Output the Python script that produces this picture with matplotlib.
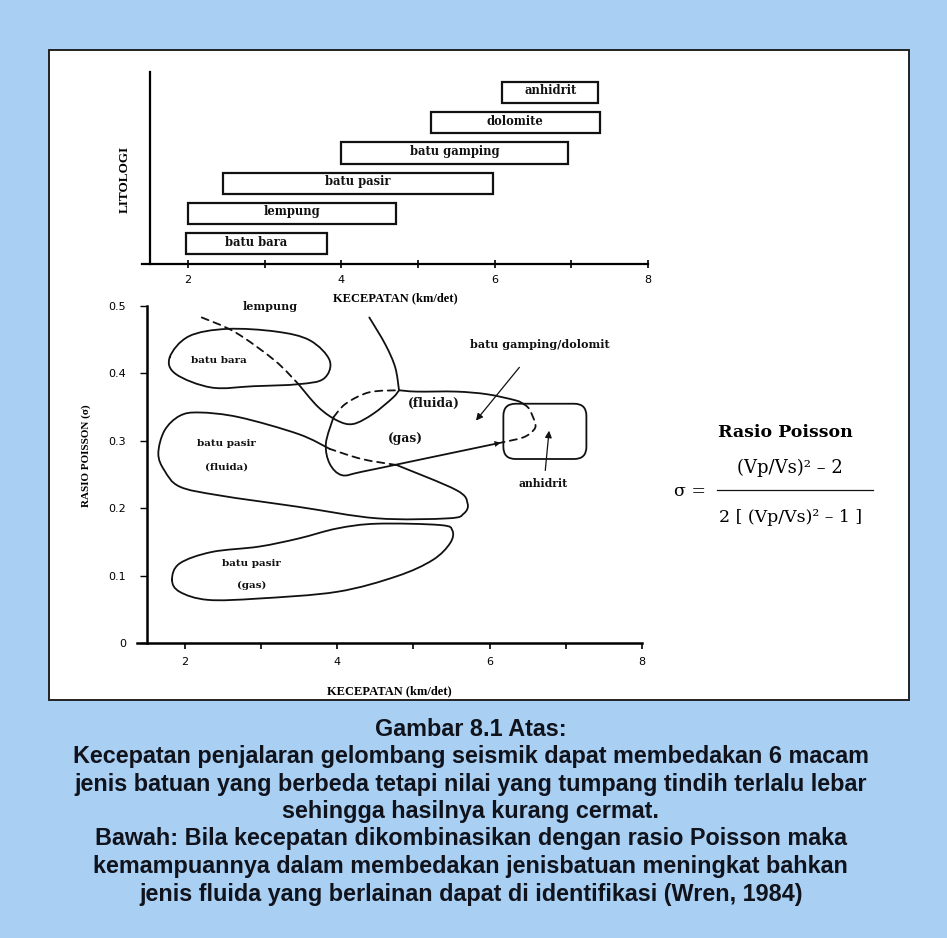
"""Litologi vs kecepatan gelombang seismik dan rasio Poisson (Wren, 1984)."""

import matplotlib

matplotlib.use("Agg")
import matplotlib.pyplot as plt
import numpy as np
from matplotlib.lines import Line2D
from matplotlib.patches import FancyBboxPatch, PathPatch, Rectangle
from matplotlib.path import Path

# --- top panel: velocity range of each lithology (km/det) ---
litologi = ["batu bara", "lempung", "batu pasir", "batu gamping", "dolomite", "anhidrit"]
v_min = [1.98, 2.00, 2.45, 3.99, 5.17, 6.10]
v_max = [3.81, 4.71, 5.98, 6.96, 7.37, 7.35]

# --- bottom panel: region outlines, (velocity, poisson ratio) ---
bara_v = [1.80, 2.05, 2.55, 3.20, 3.64, 3.90, 3.82, 3.49, 2.90, 2.35, 1.88]
bara_s = [0.424, 0.455, 0.466, 0.462, 0.449, 0.419, 0.392, 0.384, 0.381, 0.379, 0.399]

lempung_dash_v = [2.22, 2.66, 3.18, 3.49]
lempung_dash_s = [0.483, 0.461, 0.419, 0.384]
lempung_low_v = [3.49, 3.75, 4.00, 4.21, 4.47, 4.73, 4.81]
lempung_low_s = [0.384, 0.350, 0.330, 0.325, 0.340, 0.364, 0.375]
lempung_up_v = [4.42, 4.63, 4.76, 4.81]
lempung_up_s = [0.483, 0.443, 0.409, 0.375]

gamping_top_v = [4.81, 5.04, 5.56, 5.97, 6.34, 6.44]
gamping_top_s = [0.375, 0.373, 0.373, 0.369, 0.360, 0.355]
gamping_right_v = [6.44, 6.52, 6.60, 6.57, 6.44, 6.18]
gamping_right_s = [0.355, 0.347, 0.325, 0.315, 0.305, 0.298]
gamping_bot_v = [3.95, 3.85, 3.90, 4.06, 4.32, 5.04, 6.18]
gamping_bot_s = [0.335, 0.296, 0.266, 0.249, 0.254, 0.271, 0.298]
gamping_dash_v = [3.95, 4.11, 4.42, 4.81]
gamping_dash_s = [0.335, 0.355, 0.372, 0.375]

pasir_fl_v = [3.90, 3.49, 2.71, 2.19, 1.93, 1.73, 1.65, 1.73, 1.93, 2.45,
              3.49, 4.52, 5.46, 5.66, 5.71, 5.56, 4.78]
pasir_fl_s = [0.288, 0.310, 0.335, 0.342, 0.337, 0.315, 0.281, 0.256, 0.232, 0.219,
              0.202, 0.185, 0.185, 0.192, 0.207, 0.227, 0.264]
pasir_fl_dash_v = [4.78, 4.32, 3.90]
pasir_fl_dash_s = [0.264, 0.273, 0.288]

pasir_gas_v = [1.83, 1.93, 2.35, 2.97, 3.49, 4.00, 4.52, 5.35, 5.51, 5.48,
               5.25, 4.78, 4.00, 2.97, 2.30, 1.93]
pasir_gas_s = [0.094, 0.118, 0.135, 0.143, 0.155, 0.170, 0.177, 0.175, 0.167, 0.148,
               0.123, 0.099, 0.076, 0.066, 0.064, 0.076]

anhidrit_v = (6.18, 7.27)
anhidrit_s = (0.273, 0.355)

BLUE = "#a9cff3"
INK = "#111111"
SERIF = ["Liberation Serif", "DejaVu Serif"]
WIDE_SERIF = ["DejaVu Serif"]


def smooth_path(xs, ys, closed=False):
    """Catmull-Rom through the outline points, as a cubic Bezier Path."""
    pts = np.column_stack([xs, ys]).astype(float)
    n = len(pts)
    if closed:
        get = lambda i: pts[i % n]
        nseg = n
    else:
        get = lambda i: pts[min(max(i, 0), n - 1)]
        nseg = n - 1
    verts = [pts[0]]
    codes = [Path.MOVETO]
    for i in range(nseg):
        p0, p1, p2, p3 = get(i - 1), get(i), get(i + 1), get(i + 2)
        verts += [p1 + (p2 - p0) / 6.0, p2 - (p3 - p1) / 6.0, p2]
        codes += [Path.CURVE4] * 3
    return Path(verts, codes)


def outline(ax, xs, ys, closed=False, dashed=False):
    ls = (0, (4, 3)) if dashed else "-"
    ax.add_patch(PathPatch(smooth_path(xs, ys, closed), fill=False,
                           edgecolor=INK, lw=1.3, ls=ls, capstyle="round"))


def label(ax, x, y, s, size=7.5):
    ax.text(x, y, s, ha="center", va="center", fontsize=size, fontweight="bold",
            family=WIDE_SERIF, color=INK, clip_on=False)


fig = plt.figure(figsize=(9.47, 9.38), dpi=100, facecolor=BLUE)
fig.patches.append(Rectangle((0.0517, 0.2537), 0.9081, 0.693, transform=fig.transFigure,
                             facecolor="white", edgecolor="#222222", lw=1.4, zorder=-10))

# top: velocity ranges
ax1 = fig.add_axes([142 / 947, 1 - 264 / 938, (648 - 142) / 947, 192 / 938])
ax1.patch.set_alpha(0)
idx = np.arange(len(litologi))
widths = np.array(v_max) - np.array(v_min)
ax1.barh(idx, widths, left=v_min, height=0.7, facecolor="white",
         edgecolor=INK, lw=1.6)
for i, name in enumerate(litologi):
    label(ax1, (v_min[i] + v_max[i]) / 2, i + 0.05, name, size=8.3)
ax1.set_xlim(1.40, 8.0)
ax1.set_ylim(-0.667, 5.67)
ax1.spines["left"].set_position(("data", 1.5))
ax1.set_xticks([2, 4, 6, 8])
ax1.set_xticks([3, 5, 7], minor=True)
ax1.set_yticks([])
ax1.tick_params(axis="x", which="both", direction="inout", length=6, width=1.2,
                labelsize=8, pad=5)
for s in ("top", "right"):
    ax1.spines[s].set_visible(False)
for s in ("left", "bottom"):
    ax1.spines[s].set_linewidth(1.6)
ax1.set_ylabel("LITOLOGI", fontsize=9.5, fontweight="bold", family=SERIF)
ax1.yaxis.set_label_coords(-0.022, 0.44)
ax1.set_xlabel("KECEPATAN (km/det)", fontsize=9, fontweight="bold", family=SERIF,
               labelpad=5)

# bottom: velocity vs Poisson ratio
ax2 = fig.add_axes([137 / 947, 1 - 643 / 938, (642 - 137) / 947, 337 / 938])
ax2.patch.set_alpha(0)
outline(ax2, bara_v, bara_s, closed=True)
outline(ax2, pasir_gas_v, pasir_gas_s, closed=True)
outline(ax2, pasir_fl_v, pasir_fl_s)
outline(ax2, pasir_fl_dash_v, pasir_fl_dash_s, dashed=True)
outline(ax2, lempung_dash_v, lempung_dash_s, dashed=True)
outline(ax2, lempung_low_v, lempung_low_s)
outline(ax2, lempung_up_v, lempung_up_s)
outline(ax2, gamping_top_v, gamping_top_s)
outline(ax2, gamping_right_v, gamping_right_s, dashed=True)
outline(ax2, gamping_bot_v, gamping_bot_s)
outline(ax2, gamping_dash_v, gamping_dash_s, dashed=True)
ax2.annotate("", xy=(gamping_bot_v[-1], gamping_bot_s[-1]),
             xytext=(gamping_bot_v[-2] + 0.8, gamping_bot_s[-2] + 0.019),
             arrowprops=dict(arrowstyle="-|>", color=INK, lw=0, mutation_scale=11))

ax2.add_patch(FancyBboxPatch((anhidrit_v[0], anhidrit_s[0]),
                             anhidrit_v[1] - anhidrit_v[0], anhidrit_s[1] - anhidrit_s[0],
                             boxstyle="round,pad=0,rounding_size=0.16",
                             mutation_aspect=0.113, fill=False,
                             edgecolor=INK, lw=1.3))

arrow = dict(arrowstyle="-|>", color=INK, lw=0.9, mutation_scale=10,
             shrinkA=0, shrinkB=0)
ax2.annotate("", xy=(5.82, 0.330), xytext=(6.39, 0.409), arrowprops=arrow)
ax2.annotate("", xy=(6.78, 0.315), xytext=(6.73, 0.256), arrowprops=arrow)

label(ax2, 3.12, 0.500, "lempung", 8)
label(ax2, 2.45, 0.419, "batu bara", 7.5)
label(ax2, 6.66, 0.443, "batu gamping/dolomit", 8)
label(ax2, 5.27, 0.355, "(fluida)", 8.8)
label(ax2, 4.89, 0.303, "(gas)", 8.8)
label(ax2, 2.55, 0.296, "batu pasir", 7.5)
label(ax2, 2.55, 0.261, "(fluida)", 7.5)
label(ax2, 6.70, 0.236, "anhidrit", 7.8)
label(ax2, 2.87, 0.118, "batu pasir", 7.5)
label(ax2, 2.87, 0.086, "(gas)", 7.5)

ax2.set_xlim(1.37, 8.0)
ax2.set_ylim(0, 0.5)
ax2.spines["left"].set_position(("data", 1.5))
ax2.set_xticks([2, 4, 6, 8])
ax2.set_xticks([3, 5, 7], minor=True)
ax2.set_yticks([0, 0.1, 0.2, 0.3, 0.4, 0.5])
ax2.set_yticklabels(["0", "0.1", "0.2", "0.3", "0.4", "0.5"])
ax2.tick_params(axis="x", which="both", direction="out", length=4, width=1.2,
                labelsize=8, pad=6)
ax2.tick_params(axis="y", direction="out", length=5, width=1.0, labelsize=8, pad=10)
for s in ("top", "right"):
    ax2.spines[s].set_visible(False)
for s in ("left", "bottom"):
    ax2.spines[s].set_linewidth(1.8)
ax2.set_ylabel("RASIO POISSON (σ)", fontsize=8, fontweight="bold", family=SERIF)
ax2.yaxis.set_label_coords(-0.092, 0.555)
ax2.set_xlabel("KECEPATAN (km/det)", fontsize=9, fontweight="bold", family=SERIF,
               labelpad=13)

# Poisson ratio formula
fig.text(0.829, 0.5394, "Rasio Poisson", ha="center", va="center", fontsize=12.5,
         fontweight="bold", family=WIDE_SERIF)
fig.text(0.834, 0.501, "(Vp/Vs)² – 2", ha="center", va="center", fontsize=13,
         family=WIDE_SERIF)
fig.text(0.835, 0.4488, "2 [ (Vp/Vs)² – 1 ]", ha="center", va="center", fontsize=12.5,
         family=WIDE_SERIF)
fig.text(0.7286, 0.4755, "σ =", ha="center", va="center", fontsize=12.5,
         family=WIDE_SERIF)
fig.lines.append(Line2D([0.757, 0.922], [0.4776, 0.4776], transform=fig.transFigure,
                        color=INK, lw=0.9))

# caption
caption = [
    "Gambar 8.1 Atas:",
    "Kecepatan penjalaran gelombang seismik dapat membedakan 6 macam",
    "jenis batuan yang berbeda tetapi nilai yang tumpang tindih terlalu lebar",
    "sehingga hasilnya kurang cermat.",
    "Bawah: Bila kecepatan dikombinasikan dengan rasio Poisson maka",
    "kemampuannya dalam membedakan jenisbatuan meningkat bahkan",
    "jenis fluida yang berlainan dapat di identifikasi (Wren, 1984)",
]
caption_y = [729, 757, 784, 811, 839, 866, 894]
for line, y in zip(caption, caption_y):
    fig.text(0.497, 1 - y / 938, line, ha="center", va="center", fontsize=16.8,
             fontweight="bold", family="Liberation Sans", color="#10131c")

fig.savefig("out.png", dpi=100, facecolor=BLUE)
